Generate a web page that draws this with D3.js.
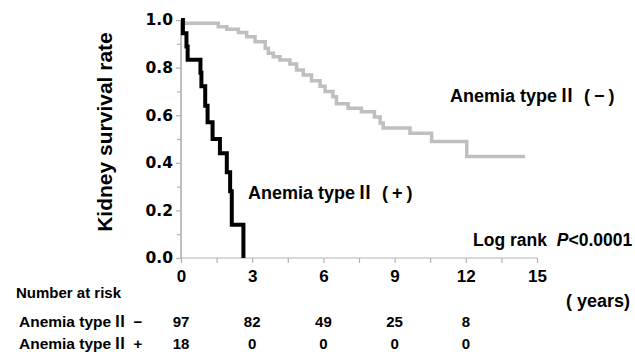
<!DOCTYPE html>
<html>
<head>
<meta charset="utf-8">
<script src="https://cdn.jsdelivr.net/npm/d3@7"></script>
<style>
  body { margin: 0; background: #fff; }
  svg { display: block; }
  .lbl { font-family: "Liberation Sans", Arial, sans-serif; font-weight: bold; fill: #000; }
  .cjk { font-family: "Noto Sans CJK JP", sans-serif; font-weight: bold; }
</style>
</head>
<body>
<script>
// chart size
var w = 635, h = 352;

// Anemia type II (-) : kaplan-meier steps
var negTime = [0, 0.1, 1.57, 1.93, 2.42, 2.77, 3.12, 3.55, 3.68, 3.89, 4.17, 4.59, 4.87, 5.15, 5.5, 5.86, 6.07, 6.4, 6.55, 7.04, 7.6, 8.15, 8.39, 8.52, 9.65, 10.56, 12.04, 14.5];
var negSurv = [1.0, 0.986, 0.972, 0.961, 0.948, 0.930, 0.909, 0.881, 0.860, 0.846, 0.832, 0.815, 0.790, 0.769, 0.745, 0.722, 0.700, 0.678, 0.648, 0.629, 0.615, 0.592, 0.567, 0.546, 0.524, 0.489, 0.426, 0.426];

// Anemia type II (+)
var posTime = [0, 0.08, 0.23, 0.28, 0.82, 0.86, 1.02, 1.12, 1.33, 1.64, 1.93, 2.07, 2.14, 2.63];
var posSurv = [1.0, 0.944, 0.889, 0.833, 0.778, 0.722, 0.64, 0.57, 0.5, 0.44, 0.36, 0.28, 0.14, 0];

// number at risk table
var riskYears = [0, 3, 6, 9, 12];
var riskNeg = [97, 82, 49, 25, 8];
var riskPos = [18, 0, 0, 0, 0];

var yTicks = [0, 0.2, 0.4, 0.6, 0.8, 1.0];

var svg = d3.select("body").append("svg")
    .attr("width", w)
    .attr("height", h);

var x = d3.scaleLinear().domain([0, 15]).range([181, 537]);
var y = d3.scaleLinear().domain([0, 1]).range([258, 20]);

var axisColor = "#b3b3b3";

// y axis, minor ticks first
var yMinor = svg.append("g")
    .attr("transform", "translate(" + x(0) + ",0)")
    .call(d3.axisLeft(y).tickValues(d3.range(0.1, 1, 0.2)).tickSize(4).tickFormat(""));

var yAxis = svg.append("g")
    .attr("transform", "translate(" + x(0) + ",0)")
    .call(d3.axisLeft(y).tickValues(yTicks).tickSize(5).tickPadding(3).tickFormat(d3.format(".1f")));

yAxis.selectAll("text")
    .style("font-family", "DejaVu Sans, Verdana, sans-serif")
    .style("font-weight", "bold")
    .style("font-size", "15.5px")
    .attr("fill", "#000");

// x axis: ticks every 1.5 years, labels every 3
var xAxis = svg.append("g")
    .attr("transform", "translate(0," + y(0) + ")")
    .call(d3.axisBottom(x).tickValues(d3.range(0, 15.01, 1.5)).tickSize(5)
        .tickFormat(function(d){ return d % 3 === 0 ? d : ""; }));

xAxis.selectAll("text")
    .attr("class", "lbl")
    .attr("y", 12)
    .style("font-size", "17px")
    .attr("fill", "#000");

svg.selectAll(".domain, .tick line")
    .attr("stroke", axisColor)
    .attr("stroke-width", 1.2);
yMinor.select(".domain").attr("d", "M0," + y(1) + "V" + y(0));
yAxis.select(".domain").attr("d", "M0," + y(1) + "V" + y(0));
xAxis.select(".domain").attr("d", "M" + x(0) + ",0H" + x(15));

var line = d3.line()
    .curve(d3.curveStepAfter)
    .x(function(d){ return x(d[0]); })
    .y(function(d){ return y(d[1]); });

svg.append("path")
    .datum(d3.zip(negTime, negSurv))
    .attr("fill", "none")
    .attr("stroke", "#bfbfbf")
    .attr("stroke-width", 3.5)
    .attr("d", line);

svg.append("path")
    .datum(d3.zip(posTime, posSurv))
    .attr("fill", "none")
    .attr("stroke", "#000")
    .attr("stroke-width", 4)
    .attr("d", line);

// "Anemia type II" with the roman numeral from the CJK font
function anemia(xx, yy, size, sign){
    var t = svg.append("text").attr("class", "lbl")
        .attr("x", xx).attr("y", yy)
        .style("font-size", size + "px");
    t.append("tspan").text("Anemia type");
    t.append("tspan").attr("class", "cjk").attr("dx", 1).text("\u2161");
    if (sign) {
        t.append("tspan").attr("dx", 8).text("(");
        t.append("tspan").attr("dx", 4).text(sign);
        t.append("tspan").attr("dx", 4).text(")");
    }
    return t;
}

anemia(450, 102, 18, "\u2212");
anemia(248, 199, 18, "+");

var lr = svg.append("text").attr("class", "lbl")
    .attr("x", 473).attr("y", 246)
    .style("font-size", "17.5px");
lr.append("tspan").text("Log rank ");
lr.append("tspan").attr("dx", 5).style("font-style", "italic").text("P");
lr.append("tspan").text("<0.0001");

svg.append("text").attr("class", "lbl")
    .attr("transform", "translate(112,132) rotate(-90)")
    .attr("text-anchor", "middle")
    .style("font-size", "21px")
    .text("Kidney survival rate");

svg.append("text").attr("class", "lbl")
    .attr("x", 16).attr("y", 298)
    .style("font-size", "15px")
    .text("Number at risk");

// unit label, parens spaced out like the full-width ones in the picture
var yrs = svg.append("text").attr("class", "lbl")
    .attr("x", 566).attr("y", 307)
    .style("font-size", "18px");
yrs.append("tspan").text("(");
yrs.append("tspan").attr("dx", 5).text("years");
yrs.append("tspan").text(")");

var rows = [
    { sign: "\u2212", vals: riskNeg, yy: 327 },
    { sign: "+", vals: riskPos, yy: 349 }
];

rows.forEach(function(r){
    anemia(19, r.yy, 15.5, null);
    svg.append("text").attr("class", "lbl")
        .attr("x", 138).attr("y", r.yy)
        .attr("text-anchor", "middle")
        .style("font-size", "15px")
        .text(r.sign);
    svg.selectAll(null)
        .data(r.vals)
        .enter()
        .append("text")
        .attr("class", "lbl")
        .attr("x", function(d, i){ return x(riskYears[i]); })
        .attr("y", r.yy)
        .attr("text-anchor", "middle")
        .style("font-size", "15px")
        .text(function(d){ return d; });
});
</script>
</body>
</html>
